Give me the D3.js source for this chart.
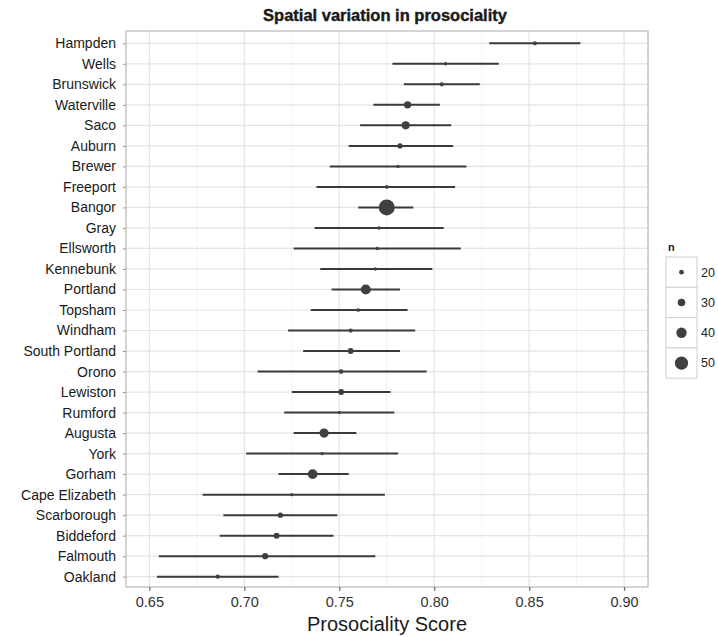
<!DOCTYPE html>
<html lang="en">
  <head>
    <meta charset="UTF-8" />
    <title>Spatial variation in prosociality</title>
    <script src="https://d3js.org/d3.v7.min.js" charset="utf-8"></script>
    <style>
      body { margin: 0; background: #fff; }
      text { font-family: "Liberation Sans", Arial, sans-serif; }
    </style>
  </head>
  <body>
    <svg class="chart"></svg>
    <script>
      // towns, top to bottom
      let towns = ["Hampden", "Wells", "Brunswick", "Waterville", "Saco", "Auburn", "Brewer",
        "Freeport", "Bangor", "Gray", "Ellsworth", "Kennebunk", "Portland", "Topsham", "Windham",
        "South Portland", "Orono", "Lewiston", "Rumford", "Augusta", "York", "Gorham",
        "Cape Elizabeth", "Scarborough", "Biddeford", "Falmouth", "Oakland"];
      let means = [0.853, 0.806, 0.804, 0.786, 0.785, 0.782, 0.781, 0.775, 0.775, 0.771, 0.770,
        0.769, 0.764, 0.760, 0.756, 0.756, 0.751, 0.751, 0.750, 0.742, 0.741, 0.736, 0.725,
        0.719, 0.717, 0.711, 0.686];
      let lows = [0.829, 0.778, 0.784, 0.768, 0.761, 0.755, 0.745, 0.738, 0.760, 0.737, 0.726,
        0.740, 0.746, 0.735, 0.723, 0.731, 0.707, 0.725, 0.721, 0.726, 0.701, 0.718, 0.678,
        0.689, 0.687, 0.655, 0.654];
      let highs = [0.877, 0.834, 0.824, 0.803, 0.809, 0.810, 0.817, 0.811, 0.789, 0.805, 0.814,
        0.799, 0.782, 0.786, 0.790, 0.782, 0.796, 0.777, 0.779, 0.759, 0.781, 0.755, 0.774,
        0.749, 0.747, 0.769, 0.718];
      let counts = [18, 15, 18, 29, 32, 22, 15, 16, 60, 15, 15, 15, 39, 16, 18, 24, 20, 24, 15,
        36, 15, 38, 15, 22, 24, 25, 18];
      let xTicks = [0.65, 0.70, 0.75, 0.80, 0.85, 0.90];
      let xMinor = [0.675, 0.725, 0.775, 0.825, 0.875];
      let legendN = [20, 30, 40, 50];

      let width = 718;
      let height = 637;
      let pLeft = 126, pRight = 648, pTop = 31, pBottom = 587;

      let svg = d3.select(".chart").attr("width", width).attr("height", height);

      let x = d3.scaleLinear().domain([0.6377, 0.9126]).range([pLeft, pRight]);
      let y = d3.scalePoint().domain(towns).range([43.3, 576.7]);
      // point diameter by sample size
      let size = d3.scaleLinear().domain([15, 60]).range([3.4, 16]);

      // grid
      let grid = svg.append("g");
      grid.selectAll(".minor").data(xMinor).enter().append("line")
        .attr("x1", d => x(d)).attr("x2", d => x(d))
        .attr("y1", pTop).attr("y2", pBottom)
        .style("stroke", "#f2f2f2").style("stroke-width", 1);
      grid.selectAll(".major").data(xTicks).enter().append("line")
        .attr("x1", d => x(d)).attr("x2", d => x(d))
        .attr("y1", pTop).attr("y2", pBottom)
        .style("stroke", "#e4e4e4").style("stroke-width", 1.2);
      grid.selectAll(".row").data(towns).enter().append("line")
        .attr("x1", pLeft).attr("x2", pRight)
        .attr("y1", d => y(d)).attr("y2", d => y(d))
        .style("stroke", "#e4e4e4").style("stroke-width", 1.2);

      svg.append("rect")
        .attr("x", pLeft).attr("y", pTop)
        .attr("width", pRight - pLeft).attr("height", pBottom - pTop)
        .style("fill", "none").style("stroke", "#b8b8b8").style("stroke-width", 1.2);

      // intervals and points
      let row = svg.selectAll(".town").data(towns).enter().append("g");
      row.append("line")
        .attr("x1", (d, i) => x(lows[i])).attr("x2", (d, i) => x(highs[i]))
        .attr("y1", d => y(d)).attr("y2", d => y(d))
        .style("stroke", "#3a3a3a").style("stroke-width", 2);
      row.append("circle")
        .attr("cx", (d, i) => x(means[i])).attr("cy", d => y(d))
        .attr("r", (d, i) => size(counts[i]) / 2)
        .style("fill", "#404040");

      // y axis
      let yAxis = svg.append("g").attr("transform", "translate(" + pLeft + ",0)")
        .call(d3.axisLeft(y).tickSize(3).tickPadding(7));
      yAxis.select(".domain").remove();
      yAxis.selectAll("line").style("stroke", "#999");
      yAxis.selectAll("text").style("font-size", "14px").style("fill", "#1a1a1a");

      // x axis
      let xAxis = svg.append("g").attr("transform", "translate(0," + pBottom + ")")
        .call(d3.axisBottom(x).tickValues(xTicks).tickFormat(d3.format(".2f")).tickSize(4).tickPadding(6));
      xAxis.select(".domain").remove();
      xAxis.selectAll("line").style("stroke", "#777").style("stroke-width", 1.3);
      xAxis.selectAll("text").style("font-size", "14.5px").style("fill", "#333");

      svg.append("text")
        .attr("x", (pLeft + pRight) / 2).attr("y", 631)
        .attr("text-anchor", "middle")
        .style("font-size", "20px").style("fill", "#1a1a1a")
        .text("Prosociality Score");

      svg.append("text")
        .attr("x", (pLeft + pRight) / 2 - 2).attr("y", 21)
        .attr("text-anchor", "middle")
        .style("font-size", "16.5px").style("font-weight", "bold").style("fill", "#1a1a1a")
        .style("stroke", "#1a1a1a").style("stroke-width", 0.4)
        .text("Spatial variation in prosociality");

      // legend
      let legend = svg.append("g").attr("transform", "translate(666,257)");
      legend.append("text")
        .attr("x", 2).attr("y", -6)
        .style("font-size", "11px").style("font-weight", "bold").style("fill", "#222")
        .text("n");
      let key = legend.selectAll(".key").data(legendN).enter().append("g")
        .attr("transform", (d, i) => "translate(0," + i * 30.3 + ")");
      key.append("rect")
        .attr("width", 31).attr("height", 30.3)
        .style("fill", "#fff").style("stroke", "#cfcfcf").style("stroke-width", 1);
      key.append("circle")
        .attr("cx", 15.5).attr("cy", 15.2)
        .attr("r", d => size(d) / 2)
        .style("fill", "#404040");
      key.append("text")
        .attr("x", 35).attr("y", 15.2).attr("dy", "0.35em")
        .style("font-size", "12.5px").style("fill", "#222")
        .text(d => d);
    </script>
  </body>
</html>
